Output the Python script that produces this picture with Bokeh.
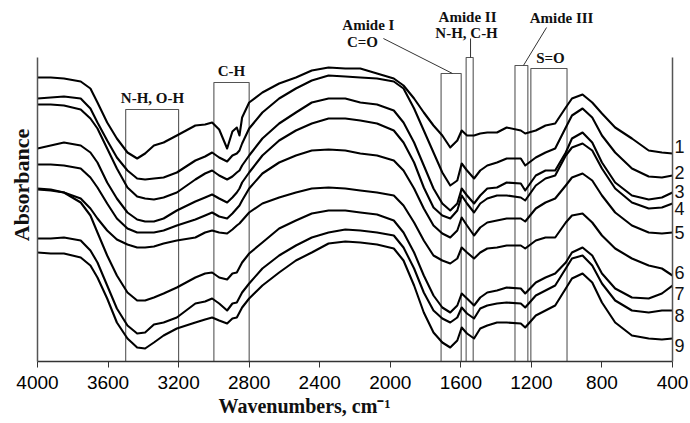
from bokeh.plotting import figure
from bokeh.models import Range1d, FixedTicker, LinearAxis, Title
from bokeh.core.properties import value
from bokeh.embed import file_html
from bokeh.resources import INLINE

# ---------------- data ----------------
wavenumber = [4000, 3925, 3850, 3755, 3700, 3660, 3605, 3550, 3490, 3435, 3390, 3340, 3285, 3210,
              3105, 3050, 3010, 2970, 2925, 2895, 2870, 2855, 2840, 2800, 2725, 2630, 2535, 2445, 2350, 2255,
              2170, 2075, 1980, 1925, 1865, 1810, 1755, 1705, 1660, 1620, 1595, 1565, 1525, 1490, 1450, 1395, 1340, 1260,
              1235, 1175, 1120, 1065, 1005, 970, 910, 855, 800, 725, 630, 535, 460, 400]

curve1 = [2.84, 2.84, 2.83, 2.80, 2.73, 2.59, 2.39, 2.23, 2.09, 2.03, 2.08, 2.16, 2.19, 2.26,
          2.36, 2.37, 2.39, 2.32, 2.13, 2.30, 2.34, 2.26, 2.44, 2.59, 2.69, 2.78, 2.84, 2.91, 2.94, 2.93,
          2.93, 2.88, 2.83, 2.76, 2.63, 2.49, 2.36, 2.26, 2.14, 2.21, 2.31, 2.26, 2.26, 2.28, 2.29, 2.29, 2.34, 2.31,
          2.28, 2.31, 2.36, 2.38, 2.54, 2.63, 2.67, 2.59, 2.48, 2.34, 2.23, 2.11, 2.09, 2.08]
curve2 = [2.63, 2.64, 2.65, 2.63, 2.53, 2.39, 2.21, 2.04, 1.91, 1.83, 1.82, 1.83, 1.84, 1.89,
          2.01, 2.05, 2.09, 2.04, 2.00, 2.06, 2.08, 2.11, 2.18, 2.33, 2.49, 2.63, 2.73, 2.81, 2.86, 2.85,
          2.84, 2.83, 2.80, 2.73, 2.53, 2.31, 2.09, 1.89, 1.76, 1.81, 1.98, 1.91, 1.83, 1.91, 1.96, 1.99, 2.03, 2.03,
          1.96, 2.04, 2.09, 2.13, 2.34, 2.46, 2.53, 2.44, 2.26, 2.09, 1.93, 1.85, 1.84, 1.86]
curve3 = [2.57, 2.57, 2.56, 2.52, 2.43, 2.33, 2.13, 1.93, 1.74, 1.65, 1.63, 1.62, 1.64, 1.69,
          1.82, 1.88, 1.91, 1.86, 1.82, 1.85, 1.89, 1.91, 1.96, 2.06, 2.23, 2.38, 2.49, 2.59, 2.63, 2.63,
          2.59, 2.57, 2.51, 2.39, 2.19, 1.96, 1.73, 1.58, 1.51, 1.58, 1.73, 1.66, 1.58, 1.66, 1.73, 1.74, 1.79, 1.78,
          1.71, 1.86, 1.91, 1.91, 2.09, 2.23, 2.29, 2.19, 1.99, 1.79, 1.66, 1.62, 1.64, 1.69]
curve4 = [2.13, 2.16, 2.19, 2.16, 2.09, 1.99, 1.79, 1.63, 1.49, 1.42, 1.40, 1.40, 1.43, 1.51,
          1.60, 1.64, 1.67, 1.63, 1.59, 1.64, 1.69, 1.73, 1.79, 1.89, 2.06, 2.21, 2.31, 2.38, 2.43, 2.43,
          2.41, 2.38, 2.31, 2.19, 1.99, 1.74, 1.54, 1.46, 1.43, 1.51, 1.66, 1.58, 1.49, 1.58, 1.63, 1.66, 1.66, 1.64,
          1.61, 1.76, 1.83, 1.86, 2.06, 2.14, 2.18, 2.11, 1.93, 1.73, 1.59, 1.53, 1.54, 1.58]
curve5 = [1.97, 1.97, 1.96, 1.93, 1.84, 1.74, 1.58, 1.43, 1.33, 1.29, 1.29, 1.29, 1.31, 1.36,
          1.42, 1.46, 1.49, 1.45, 1.43, 1.48, 1.53, 1.56, 1.61, 1.73, 1.88, 1.99, 2.06, 2.11, 2.12, 2.11,
          2.08, 2.06, 2.01, 1.91, 1.73, 1.53, 1.36, 1.28, 1.24, 1.31, 1.44, 1.36, 1.26, 1.34, 1.39, 1.41, 1.43, 1.43,
          1.40, 1.53, 1.59, 1.63, 1.76, 1.84, 1.88, 1.81, 1.66, 1.49, 1.36, 1.29, 1.28, 1.29]
curve6 = [1.73, 1.72, 1.69, 1.63, 1.53, 1.43, 1.31, 1.22, 1.17, 1.14, 1.14, 1.15, 1.18, 1.21,
          1.24, 1.29, 1.31, 1.29, 1.28, 1.32, 1.36, 1.38, 1.41, 1.49, 1.58, 1.64, 1.69, 1.73, 1.74, 1.73,
          1.71, 1.69, 1.66, 1.56, 1.39, 1.21, 1.06, 1.01, 0.98, 1.03, 1.14, 1.09, 1.03, 1.09, 1.13, 1.14, 1.16, 1.16,
          1.13, 1.21, 1.24, 1.24, 1.39, 1.46, 1.48, 1.39, 1.26, 1.13, 1.03, 0.96, 0.93, 0.86]
curve7 = [1.72, 1.71, 1.69, 1.59, 1.46, 1.29, 1.06, 0.86, 0.69, 0.61, 0.61, 0.64, 0.68, 0.74,
          0.84, 0.88, 0.89, 0.84, 0.82, 0.88, 0.89, 0.94, 0.99, 1.08, 1.19, 1.33, 1.41, 1.48, 1.51, 1.51,
          1.49, 1.47, 1.41, 1.29, 1.09, 0.86, 0.66, 0.54, 0.49, 0.56, 0.68, 0.63, 0.56, 0.64, 0.69, 0.71, 0.74, 0.73,
          0.68, 0.79, 0.84, 0.88, 0.99, 1.09, 1.14, 1.06, 0.88, 0.73, 0.64, 0.63, 0.68, 0.76]
curve8 = [1.23, 1.23, 1.24, 1.21, 1.11, 0.99, 0.76, 0.53, 0.36, 0.28, 0.29, 0.37, 0.39, 0.44,
          0.58, 0.60, 0.63, 0.58, 0.51, 0.58, 0.59, 0.64, 0.69, 0.78, 0.93, 1.06, 1.16, 1.24, 1.29, 1.32,
          1.31, 1.29, 1.26, 1.14, 0.93, 0.69, 0.51, 0.43, 0.39, 0.44, 0.54, 0.48, 0.43, 0.53, 0.56, 0.58, 0.59, 0.58,
          0.54, 0.66, 0.71, 0.76, 0.93, 1.03, 1.06, 0.96, 0.78, 0.61, 0.51, 0.49, 0.51, 0.51]
curve9 = [1.09, 1.08, 1.08, 1.04, 0.96, 0.84, 0.63, 0.39, 0.23, 0.14, 0.13, 0.19, 0.26, 0.33,
          0.39, 0.42, 0.44, 0.41, 0.38, 0.43, 0.44, 0.49, 0.54, 0.63, 0.76, 0.89, 1.01, 1.09, 1.18, 1.20,
          1.19, 1.17, 1.13, 1.01, 0.76, 0.49, 0.29, 0.19, 0.14, 0.21, 0.34, 0.28, 0.23, 0.33, 0.36, 0.39, 0.39, 0.38,
          0.34, 0.46, 0.51, 0.56, 0.73, 0.83, 0.88, 0.79, 0.59, 0.39, 0.26, 0.23, 0.22, 0.23]

series = [curve1, curve2, curve3, curve4, curve5, curve6, curve7, curve8, curve9]
curve_names = ["1", "2", "3", "4", "5", "6", "7", "8", "9"]

# band regions (cm-1)
band_names = ["N-H, O-H", "C-H", "Amide I", "Amide II", "Amide III", "S=O"]
band_high = [3500, 3000, 1712, 1570, 1293, 1203]
band_low = [3200, 2800, 1598, 1530, 1220, 998]

x_ticks = [4000, 3600, 3200, 2800, 2400, 2000, 1600, 1200, 800, 400]

# ---------------- layout / style ----------------
Y_TOP = 3.04          # top of the plotted box
box_top = [2.52, 2.79, 2.88, 3.04, 2.96, 2.93]
label_y = [2.15, 1.89, 1.70, 1.53, 1.29, 0.89, 0.68, 0.46, 0.16]

p = figure(width=688, height=422, x_range=Range1d(4000, 400), y_range=Range1d(0, 3.53),
           min_border_left=37, min_border_right=16,
           min_border_top=8, min_border_bottom=61,
           output_backend="svg", toolbar_location=None)
p.outline_line_color = None
p.grid.visible = False
p.background_fill_color = "white"

# bottom axis
ax = p.xaxis[0]
ax.ticker = FixedTicker(ticks=x_ticks)
ax.minor_tick_line_color = None
ax.major_tick_in = 0
ax.major_tick_out = 6
ax.major_tick_line_color = "#333333"
ax.axis_line_color = "#333333"
ax.axis_line_width = 1.5
ax.major_label_text_font = "Liberation Sans"
ax.major_label_text_font_size = "19px"
ax.major_label_text_color = "black"
ax.major_label_standoff = 8

# left axis: only a line and its title
ly = p.yaxis[0]
ly.bounds = (0, Y_TOP)
ly.ticker = FixedTicker(ticks=[])
ly.major_tick_out = 0
ly.major_tick_in = 0
ly.minor_tick_line_color = None
ly.axis_line_color = "#555555"
ly.axis_line_width = 1.5
ly.major_label_standoff = 0
ly.axis_label = "Absorbance"
ly.axis_label_standoff = 4
ly.axis_label_text_font = "Liberation Serif"
ly.axis_label_text_font_style = "bold"
ly.axis_label_text_font_size = "22px"
ly.axis_label_text_color = "#111111"

# right axis: line and the curve numbers
ry = LinearAxis(ticker=FixedTicker(ticks=label_y), bounds=(0, Y_TOP),
                major_label_overrides={yv: n for yv, n in zip(label_y, curve_names)},
                major_tick_out=0, major_tick_in=0, minor_tick_line_color=None,
                axis_line_color="#555555", axis_line_width=1.5,
                major_label_standoff=2, major_label_text_font="Liberation Sans",
                major_label_text_font_size="18px", major_label_text_color="#111111")
p.add_layout(ry, "right")

# x title
p.add_layout(Title(text="Wavenumbers, cm\u207b\u00b9", align="left", offset=181, standoff=2,
                   text_font="Liberation Serif", text_font_style="bold",
                   text_font_size="20px", text_color="#111111"), "below")

# band boxes
p.quad(left=band_high, right=band_low, bottom=0, top=box_top,
       fill_color=None, line_color="#555555", line_width=1.1)

# spectra
for s in series:
    p.line(wavenumber, s, line_color="black", line_width=2.1, line_join="round")

# leader lines
p.segment(x0=[2039, 1545, 1114], y0=[3.23, 3.04, 3.34],
          x1=[1647, 1545, 1245], y1=[2.88, 3.23, 2.96],
          line_color="#333333", line_width=1)

# band texts
txt_x = [3348, 2900, 2124, 2158, 1562, 1557, 1029, 1092]
txt_y = [2.64, 2.91, 3.37, 3.20, 3.45, 3.29, 3.44, 3.04]
txt = ["N-H, O-H", "C-H", "Amide I", "C=O", "Amide II", "N-H,  C-H", "Amide III", "S=O"]
p.text(x=txt_x, y=txt_y, text=txt, text_align="center", text_baseline="middle",
       text_font=value("Liberation Serif"), text_font_style="bold",
       text_font_size="15px", text_color="#111111")

open("out.html", "w").write(file_html(p, INLINE))
